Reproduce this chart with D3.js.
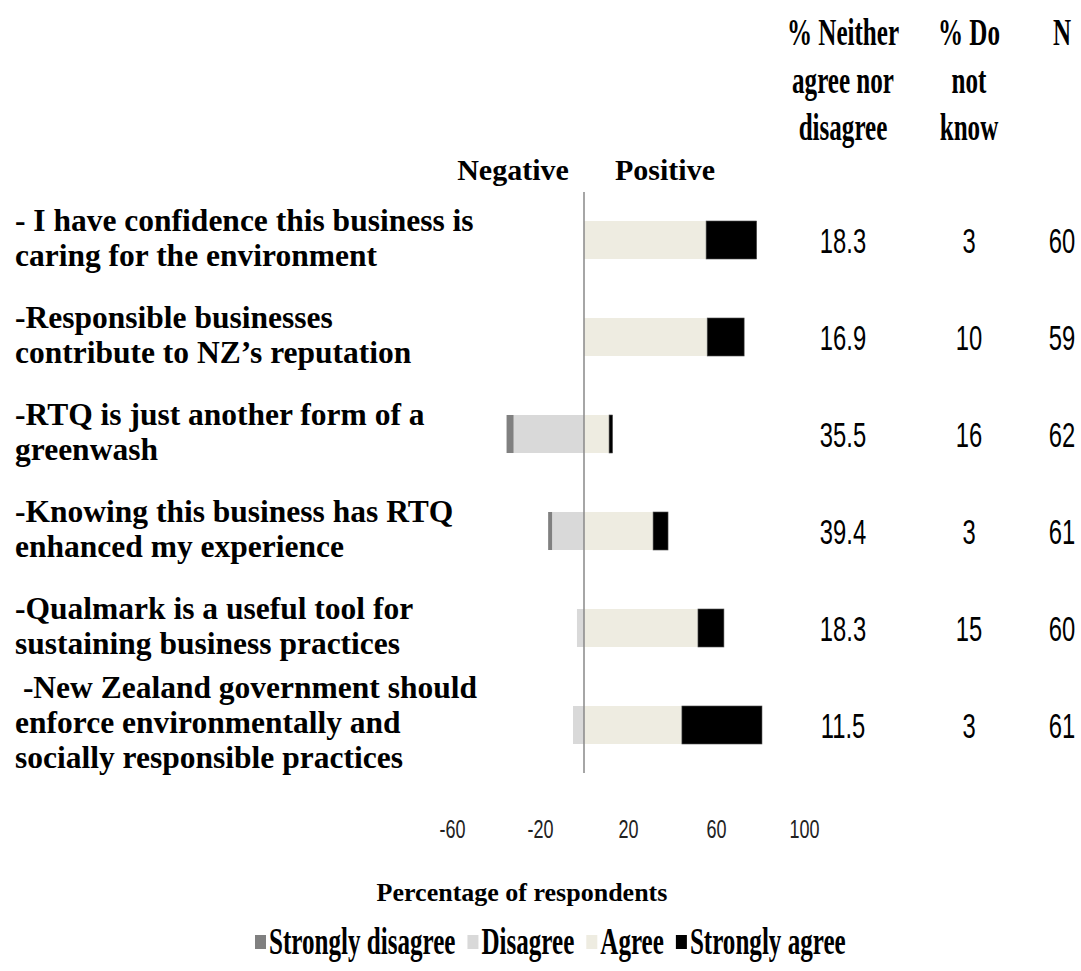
<!DOCTYPE html>
<html>
<head>
<meta charset="utf-8">
<script src="https://cdn.jsdelivr.net/npm/d3@7"></script>
<style>
  body { margin: 0; background: #fff; }
  svg { display: block; }
</style>
</head>
<body>
<svg id="chart" width="1081" height="971"></svg>
<script>
// statements (each line of the label on its own)
var statements = [
  ["- I have confidence this business is", "caring for the environment"],
  ["-Responsible businesses", "contribute to NZ\u2019s reputation"],
  ["-RTQ is just another form of a", "greenwash"],
  ["-Knowing this business has RTQ", "enhanced my experience"],
  ["-Qualmark is a useful tool for", "sustaining business practices"],
  [" -New Zealand government should", "enforce environmentally and", "socially responsible practices"]
];

// percentages
var stronglyDisagree = [0, 0, 3.2, 1.8, 0, 0];
var disagree         = [0, 0, 32, 14.5, 3.2, 5];
var agree            = [55.5, 56, 11.4, 31.4, 51.8, 44.5];
var stronglyAgree    = [23, 16.8, 1.6, 6.8, 11.8, 36.4];

// table on the right
var neitherPct  = ["18.3", "16.9", "35.5", "39.4", "18.3", "11.5"];
var dontKnowPct = ["3", "10", "16", "3", "15", "3"];
var nCount      = ["60", "59", "62", "61", "60", "61"];

var tickValues = [-60, -20, 20, 60, 100];
var seriesNames = ["Strongly disagree", "Disagree", "Agree", "Strongly agree"];
var seriesColors = ["#808080", "#d9d9d9", "#eeece1", "#000000"];

var svg = d3.select("#chart");
var serif = "'Liberation Serif', 'Times New Roman', serif";
var sans = "'Liberation Sans', Arial, sans-serif";

var x = d3.scaleLinear().domain([-60, 100]).range([452, 804]);
var y = d3.scaleBand()
    .domain(d3.range(statements.length))
    .range([191.5, 773.5])
    .paddingInner(0.608)
    .paddingOuter(0.304);

// build the stacked segments from the arrays
var segments = [];
statements.forEach(function(s, i){
  segments.push({row: i, s: 1, x0: -disagree[i], x1: 0});
  segments.push({row: i, s: 0, x0: -disagree[i] - stronglyDisagree[i], x1: -disagree[i]});
  segments.push({row: i, s: 2, x0: 0, x1: agree[i]});
  segments.push({row: i, s: 3, x0: agree[i], x1: agree[i] + stronglyAgree[i]});
});

// condensed text helper (the original uses narrow fonts)
function scaledText(parent, str, tx, ty, size, sx, anchor, family, weight){
  return parent.append("text")
      .attr("transform", "translate(" + tx + "," + ty + ") scale(" + sx + ",1)")
      .attr("text-anchor", anchor)
      .attr("font-family", family)
      .attr("font-weight", weight)
      .attr("font-size", size)
      .attr("fill", "#000")
      .text(str);
}

// bars
svg.append("g").selectAll("rect")
    .data(segments.filter(function(d){ return d.x1 - d.x0 > 0; }))
    .enter().append("rect")
    .attr("x", function(d){ return x(d.x0); })
    .attr("width", function(d){ return x(d.x1) - x(d.x0); })
    .attr("y", function(d){ return y(d.row); })
    .attr("height", y.bandwidth())
    .attr("fill", function(d){ return seriesColors[d.s]; })
    .attr("stroke", function(d){ return d.s === 3 ? "#555" : "none"; })
    .attr("stroke-width", 0.6);

// zero line
svg.append("line")
    .attr("x1", x(0)).attr("x2", x(0))
    .attr("y1", 192).attr("y2", 773)
    .attr("stroke", "#888")
    .attr("stroke-width", 1.5);

// statement labels
var labels = svg.append("g")
    .attr("font-family", serif)
    .attr("font-weight", "bold")
    .attr("font-size", 31.5);
statements.forEach(function(lines, i){
  var cy = y(i) + y.bandwidth() / 2;
  lines.forEach(function(line, j){
    labels.append("text")
        .attr("x", 15)
        .attr("y", cy + 8 + (j - (lines.length - 1) / 2) * 35)
        .attr("xml:space", "preserve")
        .style("white-space", "pre")
        .text(line);
  });
});

// Negative / Positive
svg.append("text").attr("x", 513).attr("y", 180)
    .attr("text-anchor", "middle").attr("font-family", serif)
    .attr("font-weight", "bold").attr("font-size", 30).text("Negative");
svg.append("text").attr("x", 665).attr("y", 180)
    .attr("text-anchor", "middle").attr("font-family", serif)
    .attr("font-weight", "bold").attr("font-size", 30).text("Positive");

// table headers
var colX = [843, 969, 1062];
var headers = [["% Neither", "agree nor", "disagree"], ["% Do", "not", "know"], ["N"]];
headers.forEach(function(lines, c){
  lines.forEach(function(line, j){
    scaledText(svg, line, colX[c], 45 + j * 47.5, 38, 0.66, "middle", serif, "bold");
  });
});

// table values
var tableCols = [neitherPct, dontKnowPct, nCount];
tableCols.forEach(function(col, c){
  col.forEach(function(v, i){
    scaledText(svg, v, colX[c], y(i) + y.bandwidth() / 2 + 13, 35, 0.68, "middle", sans, "normal");
  });
});

// x axis (labels only)
var axis = svg.append("g")
    .attr("transform", "translate(0,812)")
    .call(d3.axisBottom(x).tickValues(tickValues)
      .tickFormat(function(d){ return String(d); })
      .tickSize(0).tickPadding(0));
axis.select(".domain").remove();
axis.selectAll("text")
    .attr("font-family", sans)
    .attr("font-size", 25)
    .attr("fill", "#222")
    .attr("dy", "0")
    .attr("y", 26)
    .attr("transform", "scale(0.72,1)");

// axis title
svg.append("text").attr("x", 522).attr("y", 901)
    .attr("text-anchor", "middle").attr("font-family", serif)
    .attr("font-weight", "bold").attr("font-size", 26)
    .text("Percentage of respondents");

// legend
var legend = svg.append("g");
var cursor = 255;
seriesNames.forEach(function(name, i){
  legend.append("rect")
      .attr("x", cursor).attr("y", 935)
      .attr("width", 11).attr("height", 14)
      .attr("fill", seriesColors[i]);
  var t = scaledText(legend, name, cursor + 14, 954, 38, 0.66, "start", serif, "bold");
  cursor += 14 + t.node().getComputedTextLength() * 0.66 + 12;
});
</script>
</body>
</html>
